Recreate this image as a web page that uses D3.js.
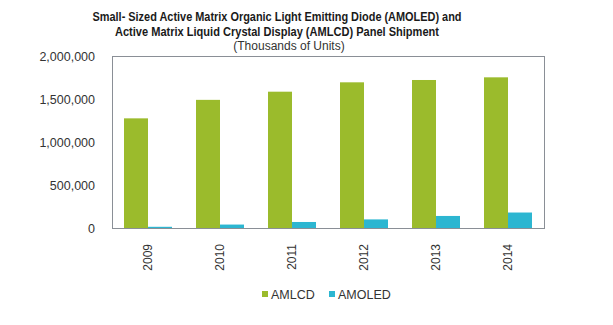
<!DOCTYPE html>
<html><head><meta charset="utf-8">
<script src="https://cdn.jsdelivr.net/npm/d3@7"></script>
<style>body{margin:0;background:#fff}svg{display:block;font-family:"Liberation Sans",Arial,sans-serif}</style>
</head><body><svg id="c" width="613" height="325"></svg>
<script>
const years = ["2009","2010","2011","2012","2013","2014"];
const seriesNames = ["AMLCD","AMOLED"];
const amlcd = [1275000,1490000,1585000,1694000,1721000,1752000];
const amoled = [14000,40000,70000,100000,140000,180000];
const yTicks = [0,500000,1000000,1500000,2000000];
const colors = ["#9bbb2c","#2cb6d1"];

const svg = d3.select("#c");
const m = {l:112, r:544, t:56, b:228};
const x = d3.scaleBand().domain(years).range([m.l,m.r]).paddingInner(1/3).paddingOuter(1/6);
const xs = d3.scaleBand().domain(seriesNames).range([0,x.bandwidth()]);
const y = d3.scaleLinear().domain([0,2000000]).range([m.b,m.t]);

// title
const t = svg.append("g").attr("fill","#1a1a1a").attr("font-weight","bold").attr("font-size","12px").attr("text-anchor","middle");
t.append("text").attr("x",277).attr("y",21).attr("textLength",369).attr("lengthAdjust","spacingAndGlyphs").text("Small- Sized Active Matrix Organic Light Emitting Diode (AMOLED) and");
t.append("text").attr("x",277).attr("y",36).attr("textLength",324).attr("lengthAdjust","spacingAndGlyphs").text("Active Matrix Liquid Crystal Display (AMLCD) Panel Shipment");
svg.append("text").attr("x",289).attr("y",50).attr("text-anchor","middle").attr("font-size","12px").attr("fill","#333").text("(Thousands of Units)");

// bars
const data = years.map((yr,i)=>({yr, vals:[amlcd[i],amoled[i]]}));
const g = svg.append("g").selectAll("g").data(data).join("g").attr("transform",d=>`translate(${x(d.yr)},0)`);
g.selectAll("rect").data(d=>d.vals.map((v,j)=>({v,s:seriesNames[j],j}))).join("rect")
  .attr("x",d=>xs(d.s)).attr("width",xs.bandwidth())
  .attr("y",d=>y(d.v)).attr("height",d=>y(0)-y(d.v)).attr("fill",d=>colors[d.j]);

// frame
svg.append("rect").attr("x",m.l+0.5).attr("y",m.t+0.5).attr("width",m.r-m.l).attr("height",m.b-m.t)
  .attr("fill","none").attr("stroke","#8a8f96").attr("stroke-width",1);

// y axis
const ya = svg.append("g").attr("transform",`translate(${m.l},0)`)
  .call(d3.axisLeft(y).tickValues(yTicks).tickFormat(d3.format(",")).tickSize(0).tickPadding(17));
ya.select(".domain").remove();
ya.selectAll("text").attr("font-size","12.5px").attr("fill","#333").attr("font-family","'Liberation Sans',Arial,sans-serif");

// x axis
const xa = svg.append("g").attr("transform",`translate(0,${m.b})`)
  .call(d3.axisBottom(x).tickSize(0));
xa.select(".domain").remove();
xa.selectAll("text").attr("font-size","12px").attr("fill","#333").attr("font-family","'Liberation Sans',Arial,sans-serif")
  .attr("transform","rotate(-90)").attr("text-anchor","end").attr("x",-16).attr("y",0).attr("dy","0.35em");

// legend
const lg = svg.append("g");
const lx = [262,329];
seriesNames.forEach((s,i)=>{
  lg.append("rect").attr("x",lx[i]).attr("y",291).attr("width",6).attr("height",6).attr("fill",colors[i]);
  lg.append("text").attr("x",lx[i]+9).attr("y",298.5).attr("font-size","12.5px").attr("fill","#333").text(s);
});
</script></body></html>
